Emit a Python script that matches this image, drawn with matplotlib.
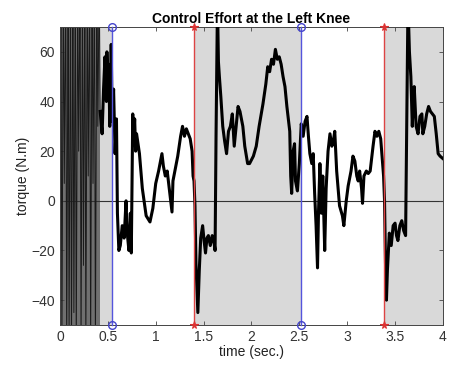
import matplotlib
matplotlib.use("Agg")
import matplotlib.pyplot as plt

plt.rcParams['font.family'] = ['Liberation Sans', 'DejaVu Sans']

# phase boundaries (sec.)
heel_strike = [0.54, 2.515]     # blue lines (circle markers)
toe_off = [1.40, 3.38]          # red lines (star markers)
settle_end = 0.42               # end of initial transient (dark band)

# initial transient: rapid oscillations, (time, torque)
transient = [(0.00, 7), (0.01, 90), (0.02, -60), (0.035, 90), (0.045, 7), (0.06, 90),
             (0.07, -60), (0.085, 90), (0.095, -55), (0.11, 90), (0.12, -60), (0.135, 90),
             (0.145, -45), (0.16, 90), (0.17, -60), (0.185, 90), (0.195, 20), (0.21, 90),
             (0.22, -60), (0.235, 90), (0.245, -26), (0.26, 90), (0.27, -60), (0.285, 90),
             (0.295, 10), (0.31, 90), (0.32, -60), (0.335, 90), (0.345, 7), (0.36, 90),
             (0.37, -60), (0.385, 90), (0.395, 30), (0.41, 90), (0.42, 36)]

# torque trace per gait phase, (time, torque)
stance1 = [(0.42, 36), (0.44, 27), (0.455, 45), (0.47, 58), (0.485, 40), (0.49, 60),
           (0.50, 46), (0.51, 55), (0.52, 30), (0.53, 48), (0.535, 63), (0.545, 32),
           (0.56, 45), (0.575, 19), (0.59, 33), (0.60, -5), (0.615, -20), (0.63, -18),
           (0.65, -10), (0.67, -15), (0.69, 0), (0.70, -12), (0.72, -20), (0.735, -5),
           (0.745, -21), (0.76, 35), (0.77, 25), (0.78, 33), (0.79, 20), (0.80, 27),
           (0.83, 19), (0.86, 5), (0.90, -6), (0.94, -8.5), (0.97, -3), (1.00, 7),
           (1.03, 12), (1.065, 19), (1.08, 14), (1.10, 10), (1.12, 12), (1.15, 2),
           (1.17, -4.5), (1.18, 8), (1.20, 12), (1.23, 18), (1.26, 26), (1.28, 30),
           (1.30, 26), (1.32, 29), (1.34, 27), (1.36, 25), (1.38, 20), (1.39, 10)]

swing1 = [(1.40, 8), (1.41, -2), (1.42, -25), (1.44, -45), (1.455, -28), (1.47, -15),
          (1.49, -10), (1.505, -16), (1.52, -21), (1.535, -15), (1.55, -14), (1.57, -18),
          (1.59, -14), (1.61, -17), (1.62, -20), (1.63, 26), (1.645, 80), (1.655, 56),
          (1.665, 50), (1.68, 42), (1.70, 30), (1.72, 24), (1.74, 19), (1.76, 28),
          (1.78, 30), (1.80, 35), (1.82, 22), (1.84, 30), (1.86, 38), (1.88, 36),
          (1.91, 30), (1.93, 22), (1.96, 15), (1.98, 15), (2.02, 18), (2.05, 22),
          (2.08, 30), (2.12, 39), (2.15, 47), (2.17, 54), (2.19, 52), (2.21, 57),
          (2.23, 55), (2.25, 61), (2.27, 57), (2.29, 58), (2.31, 55), (2.33, 50),
          (2.35, 46), (2.37, 38), (2.40, 28), (2.41, 10), (2.42, 3), (2.435, 20),
          (2.45, 23), (2.46, 8), (2.48, 4), (2.50, 15)]

stance2 = [(2.52, 31), (2.54, 26), (2.56, 32), (2.58, 34), (2.595, 26), (2.61, 19),
           (2.63, 15), (2.645, 19), (2.66, 3), (2.675, -10), (2.69, -27), (2.70, -5),
           (2.715, 15), (2.73, -5), (2.745, 10), (2.765, -20), (2.78, 5), (2.80, 20),
           (2.82, 27), (2.84, 22), (2.855, 24), (2.87, 28), (2.89, 12), (2.92, -2),
           (2.95, -6), (2.965, -10), (2.99, 0), (3.01, 6), (3.04, 12), (3.06, 18),
           (3.08, 16), (3.10, 10), (3.115, 8), (3.13, 12), (3.15, 5), (3.16, -1),
           (3.175, 10), (3.20, 12), (3.22, 11), (3.24, 12), (3.27, 22), (3.29, 28),
           (3.31, 26), (3.33, 28), (3.35, 25), (3.37, 15)]

swing2 = [(3.38, 10), (3.39, 0), (3.40, -25), (3.41, -40), (3.42, -28), (3.44, -13),
          (3.46, -18), (3.48, -10), (3.50, -9), (3.515, -14), (3.53, -16), (3.55, -10),
          (3.57, -8), (3.59, -12), (3.61, -14), (3.62, 23), (3.635, 80), (3.65, 60),
          (3.665, 50), (3.68, 30), (3.69, 40), (3.70, 46), (3.72, 30), (3.74, 27),
          (3.76, 34), (3.78, 35), (3.79, 27), (3.81, 30), (3.83, 35), (3.85, 38),
          (3.87, 36), (3.89, 35), (3.91, 34), (3.93, 27), (3.95, 19), (3.97, 18),
          (4.00, 17)]

xticks = [0, 0.5, 1, 1.5, 2, 2.5, 3, 3.5, 4]
xticklabels = ['0', '0.5', '1', '1.5', '2', '2.5', '3', '3.5', '4']
yticks = [-40, -20, 0, 20, 40, 60]

trace = stance1 + swing1 + stance2 + swing2
sig_t = [p[0] for p in trace]
sig_v = [p[1] for p in trace]
osc_t = [p[0] for p in transient]
osc_v = [p[1] for p in transient]

fig = plt.figure(figsize=(4.5, 3.73), dpi=100)
ax = fig.add_axes([0.1333, 0.1287, 0.851, 0.7989])

xlim = (0, 4)
ylim = (-50, 70)
light = '#d9d9d9'

# shaded phases
ax.axvspan(0, heel_strike[0], color=light, lw=0, zorder=0)
ax.axvspan(toe_off[0], heel_strike[1], color=light, lw=0, zorder=0)
ax.axvspan(toe_off[1], xlim[1], color=light, lw=0, zorder=0)
ax.axvspan(0, settle_end, color='#707070', lw=0, zorder=0.5)

ax.axhline(0, color='#333333', lw=0.8, zorder=1)

ax.plot(osc_t, osc_v, color='#1a1a1a', lw=0.7, zorder=2)
ax.plot(sig_t, sig_v, color='black', lw=2.2, zorder=3)

for x in heel_strike:
    ax.plot([x, x], ylim, color='#5555dd', lw=1.0, zorder=4, clip_on=False)
    ax.plot([x, x], ylim, ls='none', marker='o', ms=5.5, mfc='none', mec='#4444cc',
            mew=1.0, zorder=5, clip_on=False)
for x in toe_off:
    ax.plot([x, x], ylim, color='#dd4444', lw=1.0, zorder=4, clip_on=False)
    ax.plot([x, x], ylim, ls='none', marker='*', ms=5.5, color='#dd3333',
            mew=0.8, zorder=5, clip_on=False)

ax.set_xlim(*xlim)
ax.set_ylim(*ylim)
ax.set_xticks(xticks)
ax.set_xticklabels(xticklabels)
ax.set_yticks(yticks)
ax.tick_params(direction='in', length=3, width=0.6, colors='#444444',
               labelcolor='#333333', labelsize=10, top=True, right=True)
for s in ax.spines.values():
    s.set_color('#444444')
    s.set_linewidth(0.7)

ax.set_title('Control Effort at the Left Knee', fontsize=10, fontweight='bold', pad=3)
ax.set_xlabel('time (sec.)', fontsize=10, color='#222222', labelpad=1)
ax.set_ylabel('torque (N.m)', fontsize=10, color='#222222', labelpad=1)

fig.savefig('out.png', dpi=100)
